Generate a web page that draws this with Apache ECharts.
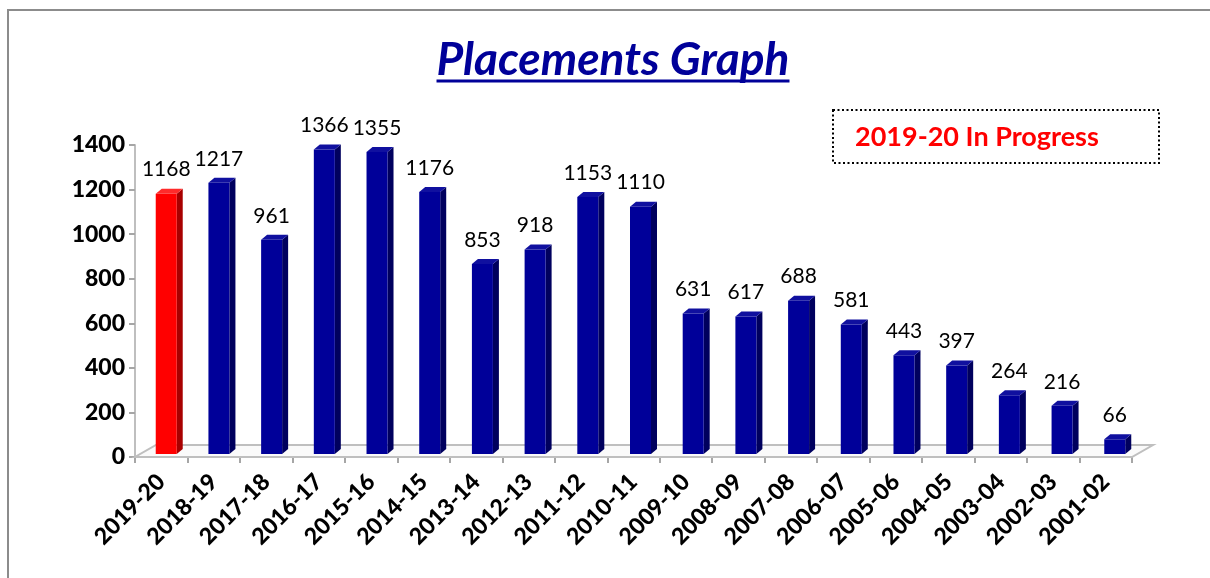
<!DOCTYPE html>
<html>
<head>
<meta charset="utf-8">
<script src="https://cdn.jsdelivr.net/npm/echarts@6/dist/echarts.min.js"></script>
<style>
  html, body { margin: 0; padding: 0; background: #fff; }
  #chart { width: 1210px; height: 578px; }
</style>
</head>
<body>
<div id="chart"></div>
<script>
// placement counts per academic year (latest first)
const years = ['2019-20', '2018-19', '2017-18', '2016-17', '2015-16', '2014-15', '2013-14',
  '2012-13', '2011-12', '2010-11', '2009-10', '2008-09', '2007-08', '2006-07', '2005-06',
  '2004-05', '2003-04', '2002-03', '2001-02']
const placements = [1168, 1217, 961, 1366, 1355, 1176, 853, 918, 1153, 1110, 631, 617, 688,
  581, 443, 397, 264, 216, 66]
const yTicks = [0, 200, 400, 600, 800, 1000, 1200, 1400]
const inProgressYear = '2019-20'

const FONT = 'Lato, "Open Sans", sans-serif'
const gridLeft = 135
const gridTop = 145
const gridRight = 78
const gridBottom = 121

const chart = echarts.init(document.getElementById('chart'))

// 3d-ish bar: front face, side face, top face + label
const renderBar = (params, api) => {
  const idx = params.dataIndex
  const val = api.value(1)
  const top = api.coord([idx, val])
  const base = api.coord([idx, 0])
  const n = years.length
  const w = 21
  const d = 6
  const h = 5
  const shift = 5 + 4 * idx / (n - 1)
  const fx = top[0] - w / 2 + shift
  const ty = top[1] - 3
  const by = base[1] - 3
  const red = years[idx] === inProgressYear
  const front = red ? '#ff0000' : '#000099'
  const side = red ? '#a80000' : '#00005e'
  const cap = red ? '#ff2a2a' : '#10109f'
  return {
    type: 'group',
    children: [
      {
        type: 'polygon',
        shape: { points: [[fx + w, ty], [fx + w + d, ty - h], [fx + w + d, by - h], [fx + w, by]] },
        style: { fill: side }
      },
      {
        type: 'rect',
        shape: { x: fx, y: ty, width: w, height: by - ty },
        style: { fill: front }
      },
      {
        type: 'polygon',
        shape: { points: [[fx, ty], [fx + d, ty - h], [fx + w + d, ty - h], [fx + w, ty]] },
        style: { fill: cap }
      },
      {
        type: 'text',
        style: {
          x: fx + w / 2,
          y: top[1] - 27,
          text: String(val),
          align: 'center',
          verticalAlign: 'middle',
          fill: '#000',
          font: '21px ' + FONT
        }
      }
    ]
  }
}

// measure title for the underline
const titleText = 'Placements Graph'
const titleFont = 'italic bold 46px ' + FONT
const ctx = document.createElement('canvas').getContext('2d')
ctx.font = titleFont
const titleW = ctx.measureText(titleText).width
const titleX = 613

// floor of the plot
const plotW = 1210 - gridLeft - gridRight
const floorY = 578 - gridBottom
const floor = [
  [gridLeft, floorY], [gridLeft + plotW, floorY],
  [gridLeft + plotW + 21, floorY - 12], [gridLeft + 21, floorY - 12]
]

const option = {
  backgroundColor: '#fff',
  animation: false,
  grid: { left: gridLeft, top: gridTop, right: gridRight, bottom: gridBottom },
  xAxis: {
    type: 'category',
    data: years,
    axisLine: { lineStyle: { color: '#a6a6a6', width: 2 } },
    axisTick: { show: true, length: 6, lineStyle: { color: '#a6a6a6', width: 2 } },
    axisLabel: {
      interval: 0,
      rotate: 45,
      margin: 21,
      color: '#000',
      fontWeight: 900,
      fontSize: 23,
      fontFamily: FONT
    }
  },
  yAxis: {
    type: 'value',
    min: yTicks[0],
    max: yTicks[yTicks.length - 1],
    interval: yTicks[1] - yTicks[0],
    splitLine: { show: false },
    axisLine: { show: true, lineStyle: { color: '#bfbfbf', width: 2 } },
    axisTick: { show: true, length: 6, lineStyle: { color: '#a6a6a6', width: 2 } },
    axisLabel: {
      margin: 10,
      color: '#000',
      fontWeight: 900,
      fontSize: 23,
      fontFamily: FONT,
      formatter: v => String(v)
    }
  },
  series: [{
    type: 'custom',
    renderItem: renderBar,
    data: placements.map((v, i) => [i, v]),
    z: 5
  }],
  graphic: [
    {
      type: 'rect',
      shape: { x: 8, y: 10, width: 1400, height: 800 },
      style: { fill: null, stroke: '#8c8c8c', lineWidth: 2 },
      silent: true
    },
    {
      type: 'polygon',
      shape: { points: floor },
      style: { fill: '#fafafa', stroke: '#bfbfbf', lineWidth: 2 },
      z: 1
    },
    {
      type: 'text',
      x: titleX,
      y: 60,
      style: {
        text: titleText,
        font: titleFont,
        fill: '#000099',
        align: 'center',
        verticalAlign: 'middle'
      }
    },
    {
      type: 'line',
      shape: { x1: titleX - titleW / 2, y1: 81, x2: titleX + titleW / 2, y2: 81 },
      style: { stroke: '#000099', lineWidth: 3 }
    },
    {
      type: 'rect',
      shape: { x: 833, y: 110, width: 326, height: 53 },
      style: { fill: '#fff', stroke: '#000', lineWidth: 2, lineDash: [2, 2.5] }
    },
    {
      type: 'text',
      x: 855,
      y: 137,
      style: {
        text: '2019-20 In Progress',
        font: 'bold 27px ' + FONT,
        fill: '#ff0000',
        align: 'left',
        verticalAlign: 'middle'
      }
    }
  ]
}

chart.setOption(option)
</script>
</body>
</html>
